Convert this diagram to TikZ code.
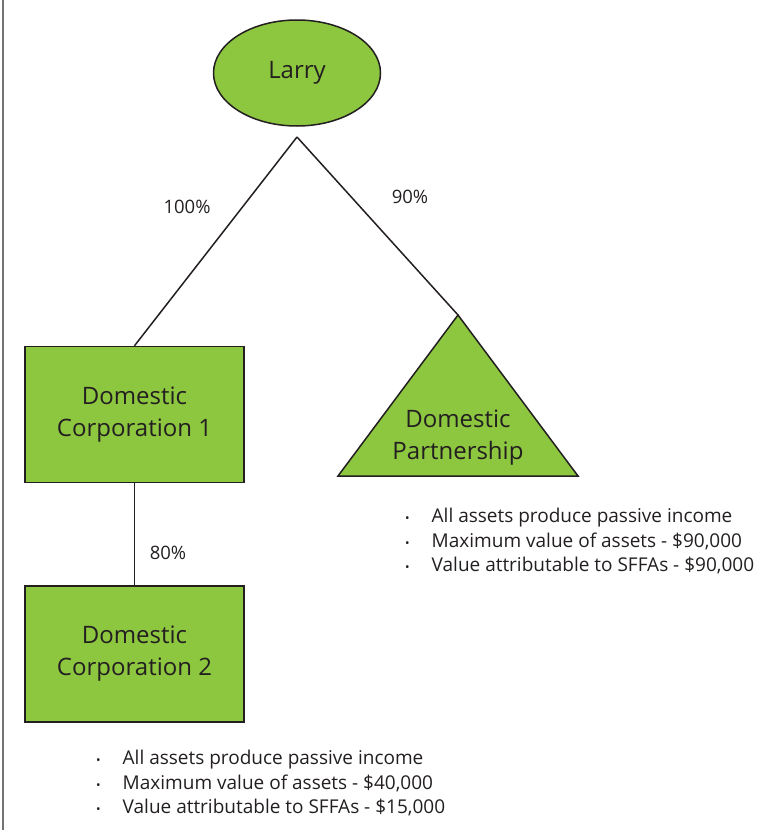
\documentclass[tikz,border=0pt]{standalone}
\usepackage{fontspec}
\setmainfont{Open Sans}
\usetikzlibrary{shapes.geometric,positioning}
\definecolor{LeafGreen}{RGB}{141,198,63}
\definecolor{InkGray}{RGB}{35,31,32}
\definecolor{FrameGray}{RGB}{115,115,115}
\tikzset{
  entity/.style={draw=InkGray,line width=1.5pt,fill=LeafGreen,text=InkGray,align=center,font=\fontsize{24}{32}\selectfont},
  corp/.style={entity,rectangle,minimum width=219pt,minimum height=136pt,inner sep=0pt},
  person/.style={entity,ellipse,minimum width=167pt,minimum height=106pt,inner sep=0pt},
  label/.style={text=InkGray,align=center,font=\fontsize{24}{32}\selectfont},
  link/.style={draw=InkGray,line width=1.5pt},
  pct/.style={font=\fontsize{18.5}{20}\selectfont,text=InkGray},
  facts/.style={font=\fontsize{19}{24.6}\selectfont,text=InkGray,anchor=base west,inner sep=0pt}
}
\newcommand{\factdot}{{\fontsize{12}{12}\selectfont\textbullet}}

\begin{document}
\begin{tikzpicture}[x=1pt,y=-1pt]
  \useasboundingbox (0,0) rectangle (770,830);
  \draw[FrameGray,line width=2pt] (3,0) -- (3,830);
  % owner and fork
  \node[person] (larry) at (297,73) {\raisebox{-2pt}{Larry}};
  \coordinate (fork) at (297,137);
  % entities
  \node[corp] (dc1) at (134.5,414.5) {Domestic\\Corporation 1};
  \node[corp] (dc2) at (134.5,654) {Domestic\\Corporation 2};
  \coordinate (dp) at (458,315);
  \filldraw[link,fill=LeafGreen,line join=miter] (dp) -- (578,476) -- (338,476) -- cycle;
  \node[label] (dpname) at (458,438) {Domestic\\Partnership};
  % ownership lines
  \draw[link] (fork) -- (dc1.north);
  \draw[link] (fork) -- (dp);
  \draw[link] (dc1.south) -- (dc2.north);
  \node[pct] (p100) at (187,207) {100\%};
  \node[pct] (p90) at (410,197) {90\%};
  \node[pct] (p80) at (168,553) {80\%};
  % asset notes
  \node[facts] (dpfacts) at (405,522.5) {\begin{tabular}[t]{@{}l@{\hspace{22pt}}l@{}}
    \factdot & All assets produce passive income\\
    \factdot & Maximum value of assets - \$90,000\\
    \factdot & Value attributable to SFFAs - \$90,000
  \end{tabular}};
  \node[facts] (dcfacts) at (96,764.5) {\begin{tabular}[t]{@{}l@{\hspace{22pt}}l@{}}
    \factdot & All assets produce passive income\\
    \factdot & Maximum value of assets - \$40,000\\
    \factdot & Value attributable to SFFAs - \$15,000
  \end{tabular}};
\end{tikzpicture}
\end{document}
